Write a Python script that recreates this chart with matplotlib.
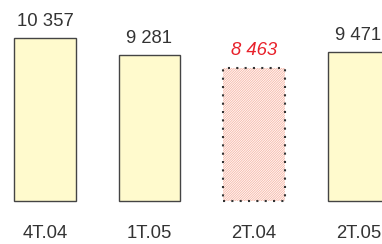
import matplotlib.pyplot as plt
import matplotlib as mpl

categories = ["4T.04", "1T.05", "2T.04", "2T.05"]
values = [10357, 9281, 8463, 9471]
labels = ["10 357", "9 281", "8 463", "9 471"]
estimated = [False, False, True, False]

mpl.rcParams['hatch.linewidth'] = 0.55
plt.rcParams['font.family'] = ['Liberation Sans', 'DejaVu Sans']

fig = plt.figure(figsize=(3.82, 2.44), dpi=100)
ax = fig.add_axes([0, 0, 1, 1])

for i, v in enumerate(values):
    if estimated[i]:
        mpl.rcParams['hatch.color'] = '#f6b2a2'
        ax.bar(i, v, width=0.593, facecolor='#fffaf8', edgecolor='#f6b2a2',
               hatch='/' * 14, linewidth=0)
        ax.bar(i, v, width=0.593, facecolor='none', edgecolor='#333333',
               linewidth=1.5, linestyle=(0, (1, 3)))
        ax.text(i, v + 830, labels[i], ha='center', va='baseline',
                fontsize=13.3, color='#e8202a', style='italic')
    else:
        ax.bar(i, v, width=0.593, facecolor='#fffacd', edgecolor='#444444',
               linewidth=1.0)
        ax.text(i, v + 780, labels[i], ha='center', va='baseline',
                fontsize=13.3, color='#333333')
    ax.text(i, -2350, categories[i], ha='center', va='baseline',
            fontsize=13.3, color='#333333')

ax.set_xlim(-0.4306, 3.225)
ax.set_ylim(-2730, 12764)
ax.axis('off')

plt.savefig("out.png", dpi=100)
